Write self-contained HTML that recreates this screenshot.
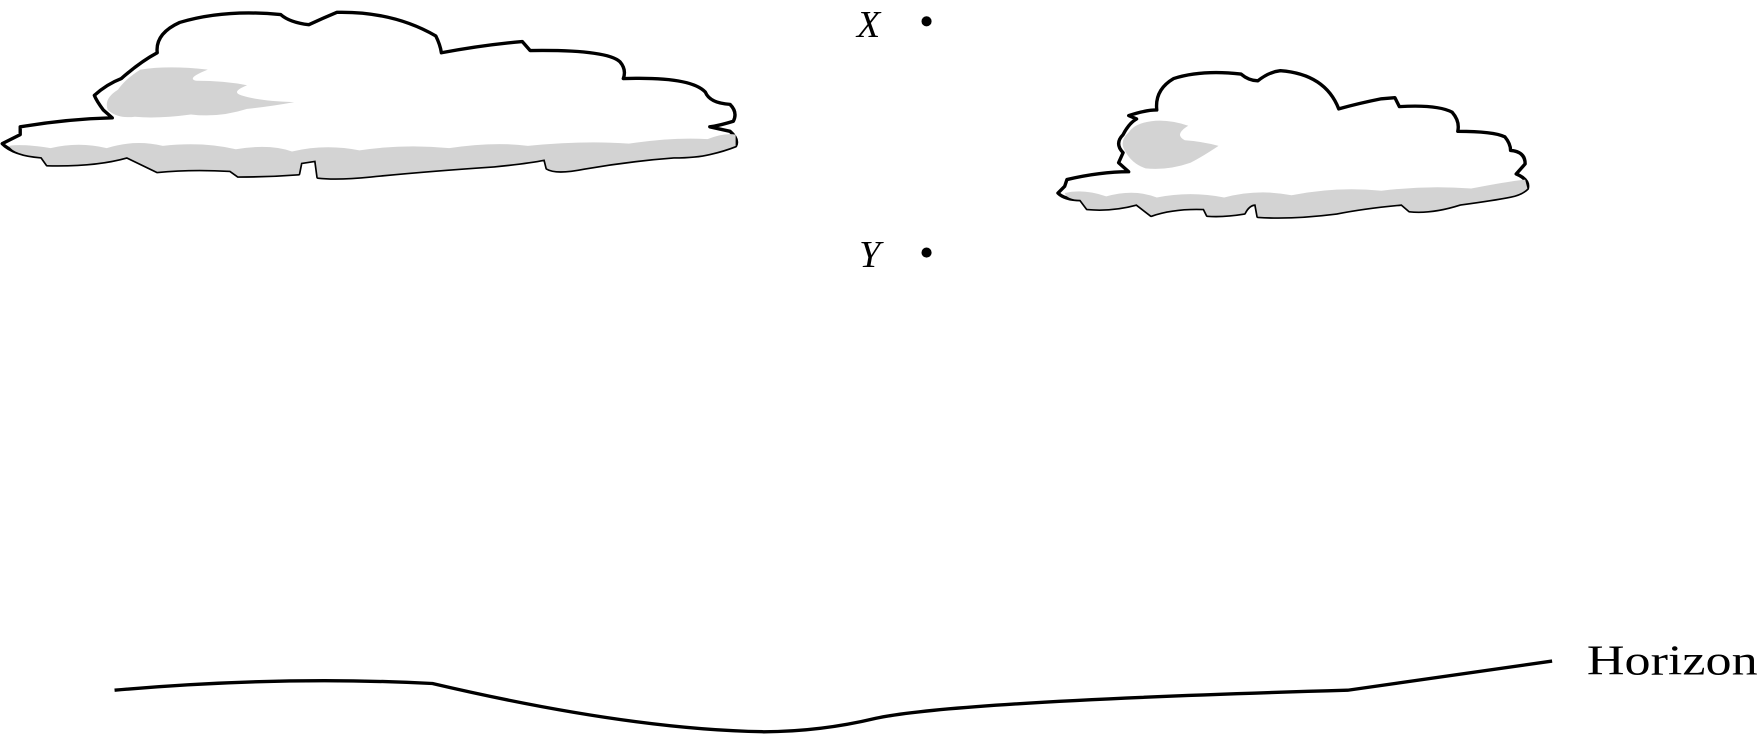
<!DOCTYPE html>
<html><head><meta charset="utf-8"><style>
html,body{margin:0;padding:0;background:#fff;}
svg{display:block;}
text{font-family:"Liberation Serif",serif;fill:#000;}
</style></head><body>
<svg width="1761" height="734" viewBox="0 0 1568 654" preserveAspectRatio="none">
<g>
<path fill="#fff" stroke="#000" stroke-width="3" stroke-linejoin="round"
d="M2,128 L18,120 L18,113 Q60,106 100,105 L92,98 Q86,90 84,85 Q95,75 108,70 Q125,55 140,47 Q138,30 160,20 Q200,8 250,13 Q258,20 275,22 Q288,16 300,11 Q350,10 388,32 Q392,40 393,47 Q430,40 465,37 L472,45 Q540,44 552,55 Q558,62 555,70 Q615,68 628,82 Q632,92 650,93 Q657,100 653,108 Q640,112 632,113 L650,117 Q658,124 655,130 Q645,134 632,137 Q620,140 600,140 Q560,143 520,150 Q495,155 487,150 L485,142 Q470,145 440,148 Q380,152 330,157 Q300,160 283,158 L281,143 L268,145 L266,155 Q240,157 212,157 L205,152 Q170,150 140,153 L113,140 Q85,148 42,147 L37,140 Q12,138 2,128 Z"/>
<path fill="#d3d3d3"
d="M8,130 Q20,128 45,132 Q70,126 95,132 Q120,124 145,130 Q180,126 210,133 Q240,128 260,135 Q290,128 320,134 Q360,128 400,132 Q440,126 470,130 Q520,125 560,128 Q600,122 630,124 Q645,118 655,120 L655,130 Q645,134 632,137 Q620,140 600,140 Q560,143 520,150 Q495,155 487,150 L485,142 Q470,145 440,148 Q380,152 330,157 Q300,160 283,158 L281,143 L268,145 L266,155 Q240,157 212,157 L205,152 Q170,150 140,153 L113,140 Q85,148 42,147 L37,140 Q12,138 8,130 Z"/>
<path fill="#d3d3d3"
d="M96,98 Q92,88 105,80 Q112,70 125,62 Q150,58 185,62 Q165,70 175,72 Q200,72 220,76 Q205,82 215,85 Q230,90 262,91 Q240,95 220,97 Q195,105 170,102 Q140,106 120,104 Q105,106 96,98 Z"/>
</g>
<g>
<path fill="#fff" stroke="#000" stroke-width="3" stroke-linejoin="round"
d="M942,172 L948,166 L950,160 Q980,153 1005,153 L996,145 L1000,136 Q992,128 1000,120 Q1005,110 1012,106 L1005,103 Q1020,98 1030,98 Q1028,80 1045,70 Q1070,62 1105,66 Q1112,72 1120,72 Q1130,64 1140,63 Q1180,66 1192,97 Q1210,92 1230,88 L1242,87 L1246,95 Q1280,93 1293,100 Q1300,108 1298,117 Q1330,117 1340,122 Q1345,128 1345,134 Q1358,135 1358,146 L1350,155 Q1362,160 1360,168 Q1355,173 1345,175 Q1330,178 1300,182 Q1275,190 1255,188 L1248,182 Q1215,185 1190,190 Q1150,195 1120,193 L1118,182 Q1112,182 1108,190 Q1090,193 1075,192 L1072,186 Q1045,185 1025,192 L1012,182 Q990,188 968,186 L962,178 Q948,178 942,172 Z"/>
<path fill="#d3d3d3"
d="M948,172 Q965,168 985,175 Q1010,168 1030,176 Q1060,170 1090,176 Q1120,168 1150,174 Q1190,166 1230,170 Q1270,165 1310,168 Q1340,162 1358,160 L1360,168 Q1355,173 1345,175 Q1330,178 1300,182 Q1275,190 1255,188 L1248,182 Q1215,185 1190,190 Q1150,195 1120,193 L1118,182 Q1112,182 1108,190 Q1090,193 1075,192 L1072,186 Q1045,185 1025,192 L1012,182 Q990,188 968,186 L962,178 Q950,178 948,172 Z"/>
<path fill="#d3d3d3"
d="M1002,135 Q996,126 1005,118 Q1010,110 1025,108 Q1040,106 1058,112 Q1045,120 1055,125 Q1070,126 1085,130 Q1070,140 1060,145 Q1040,152 1020,150 Q1008,146 1002,135 Z"/>
</g>
<text x="763" y="33" font-size="34" font-style="italic">X</text>
<circle cx="825" cy="19" r="4.5" fill="#000"/>
<text x="765" y="238" font-size="34" font-style="italic">Y</text>
<circle cx="825" cy="225" r="4.5" fill="#000"/>
<path fill="none" stroke="#000" stroke-width="3"
d="M102,615 Q250,602 385,609 Q560,650 680,652 Q730,652 780,640 Q850,625 1200,615 L1382,589"/>
<text x="1413" y="601" font-size="38" textLength="152" lengthAdjust="spacingAndGlyphs">Horizon</text>
</svg>
</body></html>
